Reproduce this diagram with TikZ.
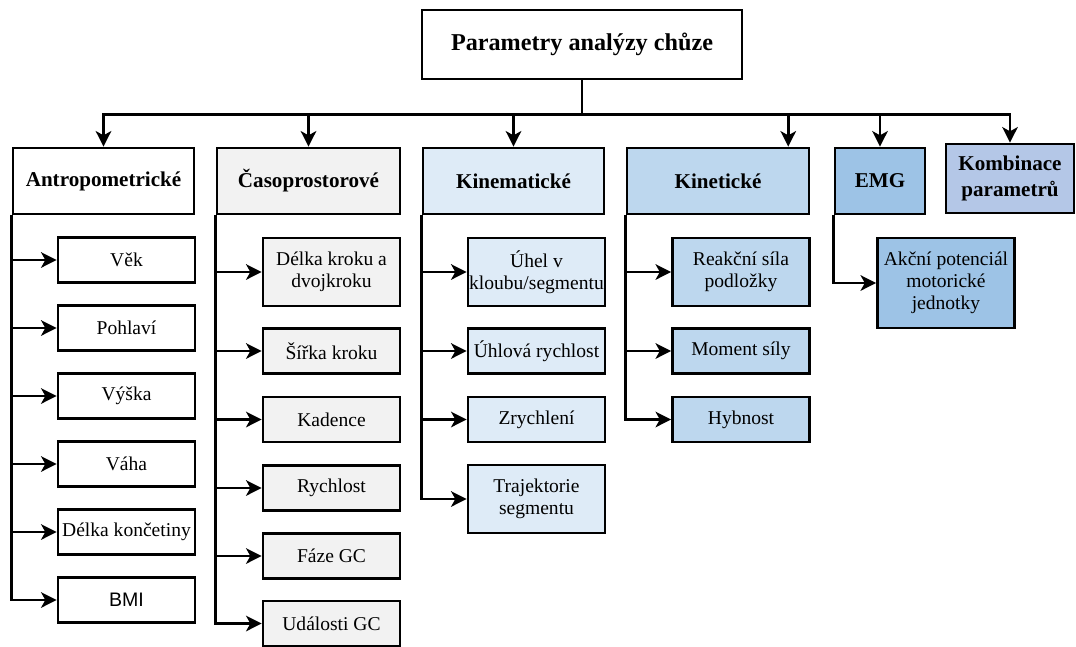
\documentclass[tikz,border=0pt]{standalone}
\usepackage{fontspec}
\setmainfont{Liberation Serif}
\newfontfamily\arialfont{Liberation Sans}
\usetikzlibrary{arrows.meta,calc}

\definecolor{grey1}{HTML}{F2F2F2}
\definecolor{blue1}{HTML}{DEEBF7}
\definecolor{blue2}{HTML}{BDD7EE}
\definecolor{blue3}{HTML}{9DC3E6}
\definecolor{blue4}{HTML}{B4C7E7}

\tikzset{
  box/.style={draw, line width=2pt, inner sep=0pt, align=center},
  group/.style={box, font=\fontsize{15}{18}\selectfont\bfseries, minimum height=1.65cm},
  leaf/.style={box, font=\fontsize{13.9}{15.8}\selectfont, minimum width=3.425cm, minimum height=1.125cm},
  link/.style={line width=2pt},
  arr/.style={link, -{Stealth[length=11pt,width=11pt,inset=3pt]}}
}

\begin{document}
\begin{tikzpicture}[x=0.025cm,y=-0.025cm]
\useasboundingbox (0,0) rectangle (1076,646);

% the root
\node[box, font=\fontsize{17.2}{20}\selectfont\bfseries, minimum width=8cm, minimum height=1.725cm] (root) at (582,44.5) {Parametry analýzy chůze};

% the groups
\node[group, minimum width=4.525cm] (antro) at (103.5,181) {Antropometrické};
\node[group, fill=grey1, minimum width=4.575cm] (caso) at (308.5,181) {Časoprostorové};
\node[group, fill=blue1, minimum width=4.525cm] (kinem) at (513.5,181) {Kinematické};
\node[group, fill=blue2, minimum width=4.55cm] (kinet) at (718,181) {Kinetické};
\node[group, fill=blue3, minimum width=2.25cm] (emg) at (880,181) {EMG};
\node[group, fill=blue4, minimum width=3.2cm, minimum height=1.725cm] (komb) at (1010,178.5) {Kombinace\\parametrů};

% the parameters
\node[leaf] (vek) at (126.5,260) {Věk};
\node[leaf] (pohl) at (126.5,328) {Pohlaví};
\node[leaf] (vyska) at (126.5,396) {Výška};
\node[leaf] (vaha) at (126.5,464) {Váha};
\node[leaf] (delka) at (126.5,532) {Délka končetiny};
\node[leaf] (bmi) at (126.5,600) {\arialfont BMI};

\node[leaf, fill=grey1, minimum height=1.7cm] (krok) at (331.5,272) {Délka kroku a\\dvojkroku};
\node[leaf, fill=grey1] (sirka) at (331.5,351) {Šířka kroku};
\node[leaf, fill=grey1] (kad) at (331.5,419.5) {Kadence};
\node[leaf, fill=grey1] (rych) at (331.5,488) {Rychlost};
\node[leaf, fill=grey1] (faze) at (331.5,556) {Fáze GC};
\node[leaf, fill=grey1] (udal) at (331.5,623.5) {Události GC};

\node[leaf, fill=blue1, minimum height=1.7cm] (uhel) at (536.5,272) {Úhel v\\kloubu/segmentu};
\node[leaf, fill=blue1] (uhlrych) at (536.5,351) {Úhlová rychlost};
\node[leaf, fill=blue1] (zrych) at (536.5,419.5) {Zrychlení};
\node[leaf, fill=blue1, minimum height=1.7cm] (traj) at (536.5,499) {Trajektorie\\segmentu};

\node[leaf, fill=blue2, minimum height=1.7cm] (reak) at (741,272) {Reakční síla\\podložky};
\node[leaf, fill=blue2] (mom) at (741,351) {Moment síly};
\node[leaf, fill=blue2] (hyb) at (741,419.5) {Hybnost};

\node[leaf, fill=blue3, minimum height=2.25cm] (akce) at (946,283) {Akční potenciál\\motorické\\jednotky};

% root to groups
\coordinate (bus) at ($(root.south)+(0,34)$);
\draw[link] (root.south) -- (bus);
\foreach \g in {antro,caso,kinem,emg,komb}
    {\draw[arr] (bus) -| (\g.north);};
\draw[arr] (bus) -| ($(kinet.north west)!0.88!(kinet.north east)$);

% groups to parameters
\foreach \p in {vek,pohl,vyska,vaha,delka,bmi}
    {\draw[arr] (antro.south west) |- (\p.west);};
\foreach \p in {krok,sirka,kad,rych,faze,udal}
    {\draw[arr] (caso.south west) |- (\p.west);};
\foreach \p in {uhel,uhlrych,zrych,traj}
    {\draw[arr] (kinem.south west) |- (\p.west);};
\foreach \p in {reak,mom,hyb}
    {\draw[arr] (kinet.south west) |- (\p.west);};
\draw[arr] (emg.south west) |- (akce.west);
\end{tikzpicture}
\end{document}
